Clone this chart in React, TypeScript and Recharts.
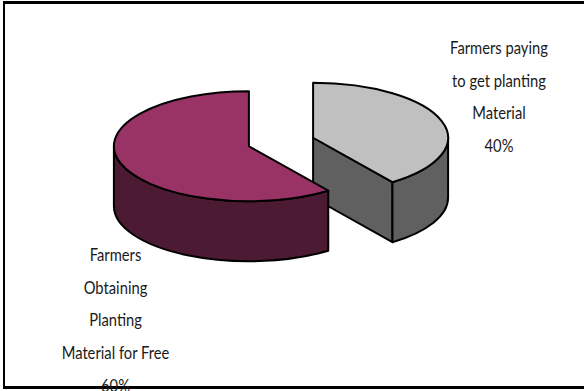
import { PieChart, Pie, Cell } from 'recharts'

const categories = ['Farmers paying to get planting Material', 'Farmers Obtaining Planting Material for Free']
const shares = [40, 60]
const topColors = ['#C0C0C0', '#993366']
const sideColors = ['#606060', '#4D1A33']
const nameLines = [
  ['Farmers paying', 'to get planting', 'Material'],
  ['Farmers', 'Obtaining', 'Planting', 'Material for Free'],
]

const pieData = categories.map((name, i) => ({ name, value: shares[i] }))

// labels sit at fixed spots beside the pie, one anchor per slice
const labelAnchors = [
  { x: 499, y: 54 },
  { x: 115.5, y: 261 },
]
const LINE_HEIGHT = 32.7

const TILT = 55 / 135 // vertical squash of the pie
const DEPTH = 60
const EXPLODE = 0.25 // slice offset, as a share of the radius

const RAD = Math.PI / 180

function ThickSlice(props: any) {
  const { cx, cy, outerRadius, startAngle, endAngle, midAngle, index } = props
  const rx = outerRadius
  const ry = outerRadius * TILT
  const ox = cx + rx * EXPLODE * Math.cos(midAngle * RAD)
  const oy = cy - ry * EXPLODE * Math.sin(midAngle * RAD)

  // recharts hands us start > end because the pie runs clockwise
  const hi = Math.max(startAngle, endAngle)
  const lo = Math.min(startAngle, endAngle)
  const px = (a: number) => ox + rx * Math.cos(a * RAD)
  const py = (a: number) => oy - ry * Math.sin(a * RAD)

  const top = `M${ox},${oy} L${px(hi)},${py(hi)} A${rx},${ry} 0 ${hi - lo > 180 ? 1 : 0} 1 ${px(lo)},${py(lo)} Z`

  // only the front half of the rim faces the viewer
  const rimHi = Math.min(hi, 0)
  const rimLo = Math.max(lo, -180)
  const rim =
    rimHi > rimLo
      ? `M${px(rimHi)},${py(rimHi)} A${rx},${ry} 0 0 1 ${px(rimLo)},${py(rimLo)} L${px(rimLo)},${py(rimLo) + DEPTH} A${rx},${ry} 0 0 0 ${px(rimHi)},${py(rimHi) + DEPTH} Z`
      : null

  // the cut face at the clockwise end shows when its normal points down the screen
  const cutVisible = Math.sin((lo - 90) * RAD) < -0.001
  const cut = cutVisible
    ? `M${ox},${oy} L${px(lo)},${py(lo)} L${px(lo)},${py(lo) + DEPTH} L${ox},${oy + DEPTH} Z`
    : null

  const side = sideColors[index]
  return (
    <g stroke="#000" strokeWidth={2} strokeLinejoin="round">
      {cut && <path d={cut} fill={side} />}
      {rim && <path d={rim} fill={side} />}
      <path d={top} fill={topColors[index]} />
    </g>
  )
}

function SliceLabel(props: any) {
  const { index, value } = props
  const { x, y } = labelAnchors[index]
  const lines = [...nameLines[index], `${value}%`]
  // narrow, tall lettering: a larger size squeezed horizontally
  return (
    <text
      transform={`translate(${x},0) scale(0.82,1)`}
      textAnchor="middle"
      fontFamily="Lato, sans-serif"
      fontSize={18}
      fill="#1a1a1a"
    >
      {lines.map((line, i) => (
        <tspan key={line} x={0} y={y + i * LINE_HEIGHT}>
          {line}
        </tspan>
      ))}
    </text>
  )
}

export default function App() {
  return (
    <div
      style={{
        position: 'absolute',
        left: 3,
        top: 1,
        width: 581,
        height: 388,
        boxSizing: 'border-box',
        borderTop: '3px solid #000',
        borderLeft: '2px solid #000',
        borderBottom: '3px solid #000',
        background: '#fff',
      }}
    >
      <div style={{ position: 'absolute', left: -5, top: -4 }}>
        <PieChart width={584} height={391} margin={{ top: 0, right: 0, bottom: 0, left: 0 }}>
          <Pie
            data={pieData}
            dataKey="value"
            nameKey="name"
            cx={281}
            cy={142}
            innerRadius={0}
            outerRadius={135}
            startAngle={90}
            endAngle={-270}
            shape={ThickSlice}
            label={SliceLabel}
            labelLine={false}
            isAnimationActive={false}
          >
            {pieData.map((d, i) => (
              <Cell key={d.name} fill={topColors[i]} />
            ))}
          </Pie>
        </PieChart>
      </div>
    </div>
  )
}
